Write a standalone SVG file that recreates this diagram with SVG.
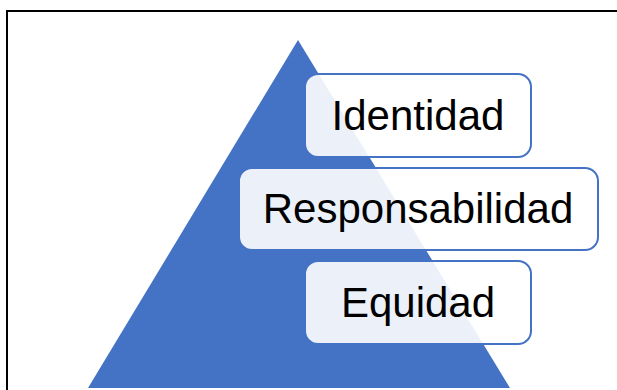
<svg xmlns="http://www.w3.org/2000/svg" width="617" height="390" viewBox="0 0 617 390">
<style>
.box{fill:#ffffff;fill-opacity:0.9;stroke:#4472C4;stroke-width:2}
.lbl{font-family:"Liberation Sans",Arial,sans-serif;font-size:42px;fill:#000000;text-anchor:middle}
</style>
<rect x="0" y="0" width="617" height="390" fill="#ffffff"/>
<rect x="7" y="11" width="620" height="390" fill="none" stroke="#000000" stroke-width="2"/>
<g id="pyramid">
<polygon points="298,40 510,388 88,388" fill="#4472C4"/>
</g>
<g id="connectors"></g>
<g id="identidad">
<rect class="box" x="305" y="74" width="226" height="83" rx="13"/>
<text class="lbl" x="418" y="130">Identidad</text>
</g>
<g id="responsabilidad">
<rect class="box" x="239" y="168" width="359" height="82" rx="13"/>
<text class="lbl" x="418" y="223">Responsabilidad</text>
</g>
<g id="equidad">
<rect class="box" x="305" y="261" width="226" height="83" rx="13"/>
<text class="lbl" x="418" y="317">Equidad</text>
</g>
</svg>
